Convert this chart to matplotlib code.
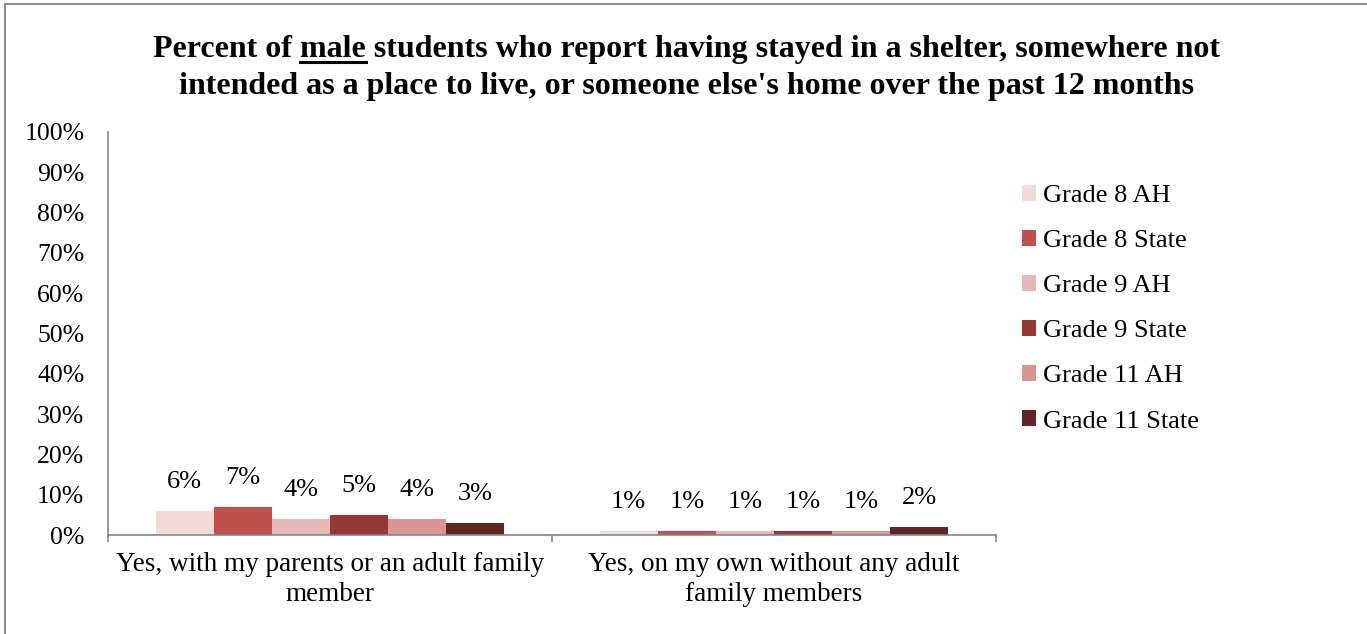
import numpy as np
import matplotlib
matplotlib.use('Agg')
import matplotlib.pyplot as plt
from matplotlib.patches import Patch, Rectangle
from matplotlib.lines import Line2D

# ---------------
# Data
categories = ['Yes, with my parents or an adult family\nmember',
              'Yes, on my own without any adult\nfamily members']
series = ['Grade 8 AH', 'Grade 8 State', 'Grade 9 AH',
          'Grade 9 State', 'Grade 11 AH', 'Grade 11 State']
values = [[6, 1],
          [7, 1],
          [4, 1],
          [5, 1],
          [4, 1],
          [3, 2]]
colors = ['#F2DCDB', '#C0504D', '#E6B9B8', '#953735', '#D99694', '#632523']

title_pre = 'Percent of '
title_word = 'male'
title_post = ' students who report having stayed in a shelter, somewhere not'
title_line2 = "intended as a place to live, or someone else's home over the past 12 months"

# ---------------
# Figure
W, H = 1367, 634
fig = plt.figure(figsize=(W / 100, H / 100), dpi=100)
plt.rcParams['font.family'] = ['Liberation Serif', 'DejaVu Serif']

grey = '#868686'
fig.patches.append(Rectangle((5 / W, -0.05), 1.1, 1 - 4 / H + 0.05,
                             transform=fig.transFigure, fill=False,
                             edgecolor='#8c8c8c', linewidth=1.5))

ax = fig.add_axes([108 / W, 1 - 535 / H, (996 - 108) / W, (535 - 132) / H])

nser = len(series)
bw = 0.131
x = np.arange(len(categories))
for i in range(nser):
    xpos = x + (i - (nser - 1) / 2) * bw
    bars = ax.bar(xpos, values[i], width=bw, color=colors[i], label=series[i])
    for xb, v in zip(xpos, values[i]):
        ax.annotate(f'{v}%', (xb, v), xytext=(0, 21), textcoords='offset points',
                    ha='center', va='center', fontsize=19)

ax.set_xlim(-0.5, 1.5)
ax.set_ylim(0, 100)
ax.set_yticks(np.arange(0, 101, 10))
ax.set_yticklabels([f'{t}%' for t in range(0, 101, 10)], fontsize=18.5)
ax.tick_params(axis='y', length=0, pad=17)

ax.set_xticks(x)
ax.set_xticklabels(categories, fontsize=19.5, linespacing=1.3)
ax.tick_params(axis='x', which='major', length=0, pad=12)
ax.set_xticks([-0.5, 0.5, 1.5], minor=True)
ax.tick_params(axis='x', which='minor', length=5, color=grey, width=1.2)

for s in ['top', 'right']:
    ax.spines[s].set_visible(False)
for s in ['left', 'bottom']:
    ax.spines[s].set_color(grey)
    ax.spines[s].set_linewidth(1.2)

# Legend
handles = [Patch(facecolor=c, edgecolor='none') for c in colors]
fig.legend(handles, series, loc='upper left', bbox_to_anchor=(1022 / W, 1 - 185 / H),
           frameon=False, fontsize=19, handlelength=0.53, handleheight=0.53,
           handletextpad=0.27, labelspacing=0.87, borderpad=0, borderaxespad=0)

# Title, with the key word underlined
tprops = dict(fontsize=23, fontweight='bold', va='baseline')
t1 = fig.text(0.5025, 1 - 57 / H, title_pre + title_word + title_post, ha='center', **tprops)
fig.text(0.5025, 1 - 94 / H, title_line2, ha='center', **tprops)

renderer = fig.canvas.get_renderer()
bb = t1.get_window_extent(renderer)
m_pre = fig.text(0, 0, title_pre, **tprops)
m_word = fig.text(0, 0, title_pre + title_word, **tprops)
x0 = bb.x0 + m_pre.get_window_extent(renderer).width
x1 = bb.x0 + m_word.get_window_extent(renderer).width
m_pre.remove()
m_word.remove()
yl = H - 62
fig.add_artist(Line2D([x0 / W, x1 / W], [yl / H, yl / H], transform=fig.transFigure,
                      color='black', linewidth=2.2))

fig.savefig('out.png', dpi=100)
